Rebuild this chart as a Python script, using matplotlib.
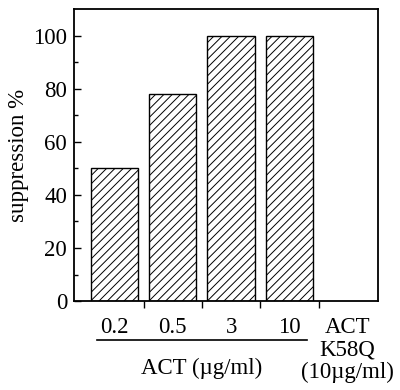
import matplotlib.pyplot as plt
import numpy as np

plt.rcParams['font.family'] = ['Liberation Serif', 'DejaVu Serif']
plt.rcParams['hatch.linewidth'] = 0.7

doses = ['0.2', '0.5', '3', '10']
suppression = [50, 78, 100, 100]
mutant_label = 'ACT\nK58Q\n(10\u00b5g/ml)'
group_label = 'ACT (\u00b5g/ml)'

fig = plt.figure(figsize=(4.0, 3.9), dpi=100)
ax = fig.add_axes([0.185, 0.228, 0.76, 0.749])

x = np.arange(len(doses))
ax.bar(x, suppression, width=0.81, color='white', edgecolor='black',
       hatch='////', linewidth=1.0)

ax.set_xlim(-0.695, 4.52)
ax.set_ylim(0, 110)
ax.set_yticks([0, 20, 40, 60, 80, 100])
ax.set_yticks(np.arange(10, 110, 20), minor=True)
ax.tick_params(axis='y', direction='in', length=5, width=1, labelsize=16.5, pad=5)
ax.tick_params(axis='y', which='minor', direction='in', length=3, width=1)
ax.set_xticks([0.5, 1.5, 2.5, 3.5])
ax.set_xticklabels([])
ax.tick_params(axis='x', direction='out', length=5, width=1)
for s in ax.spines.values():
    s.set_linewidth(1.3)

ax.set_ylabel('suppression %', fontsize=16.5, labelpad=3)

# category labels under the axis
for xi, d in zip(x, doses):
    ax.text(xi, -6, d, ha='center', va='top', fontsize=16.5)
ax.text(4, -6, mutant_label, ha='center', va='top', fontsize=16.5,
        linespacing=1.1)

# bracket line under the ACT doses
ax.plot([-0.3, 3.31], [-14.5, -14.5], color='black', lw=1.2, clip_on=False)
ax.text(1.5, -21.5, group_label, ha='center', va='top', fontsize=16.5)

fig.savefig('out.png', dpi=100)
